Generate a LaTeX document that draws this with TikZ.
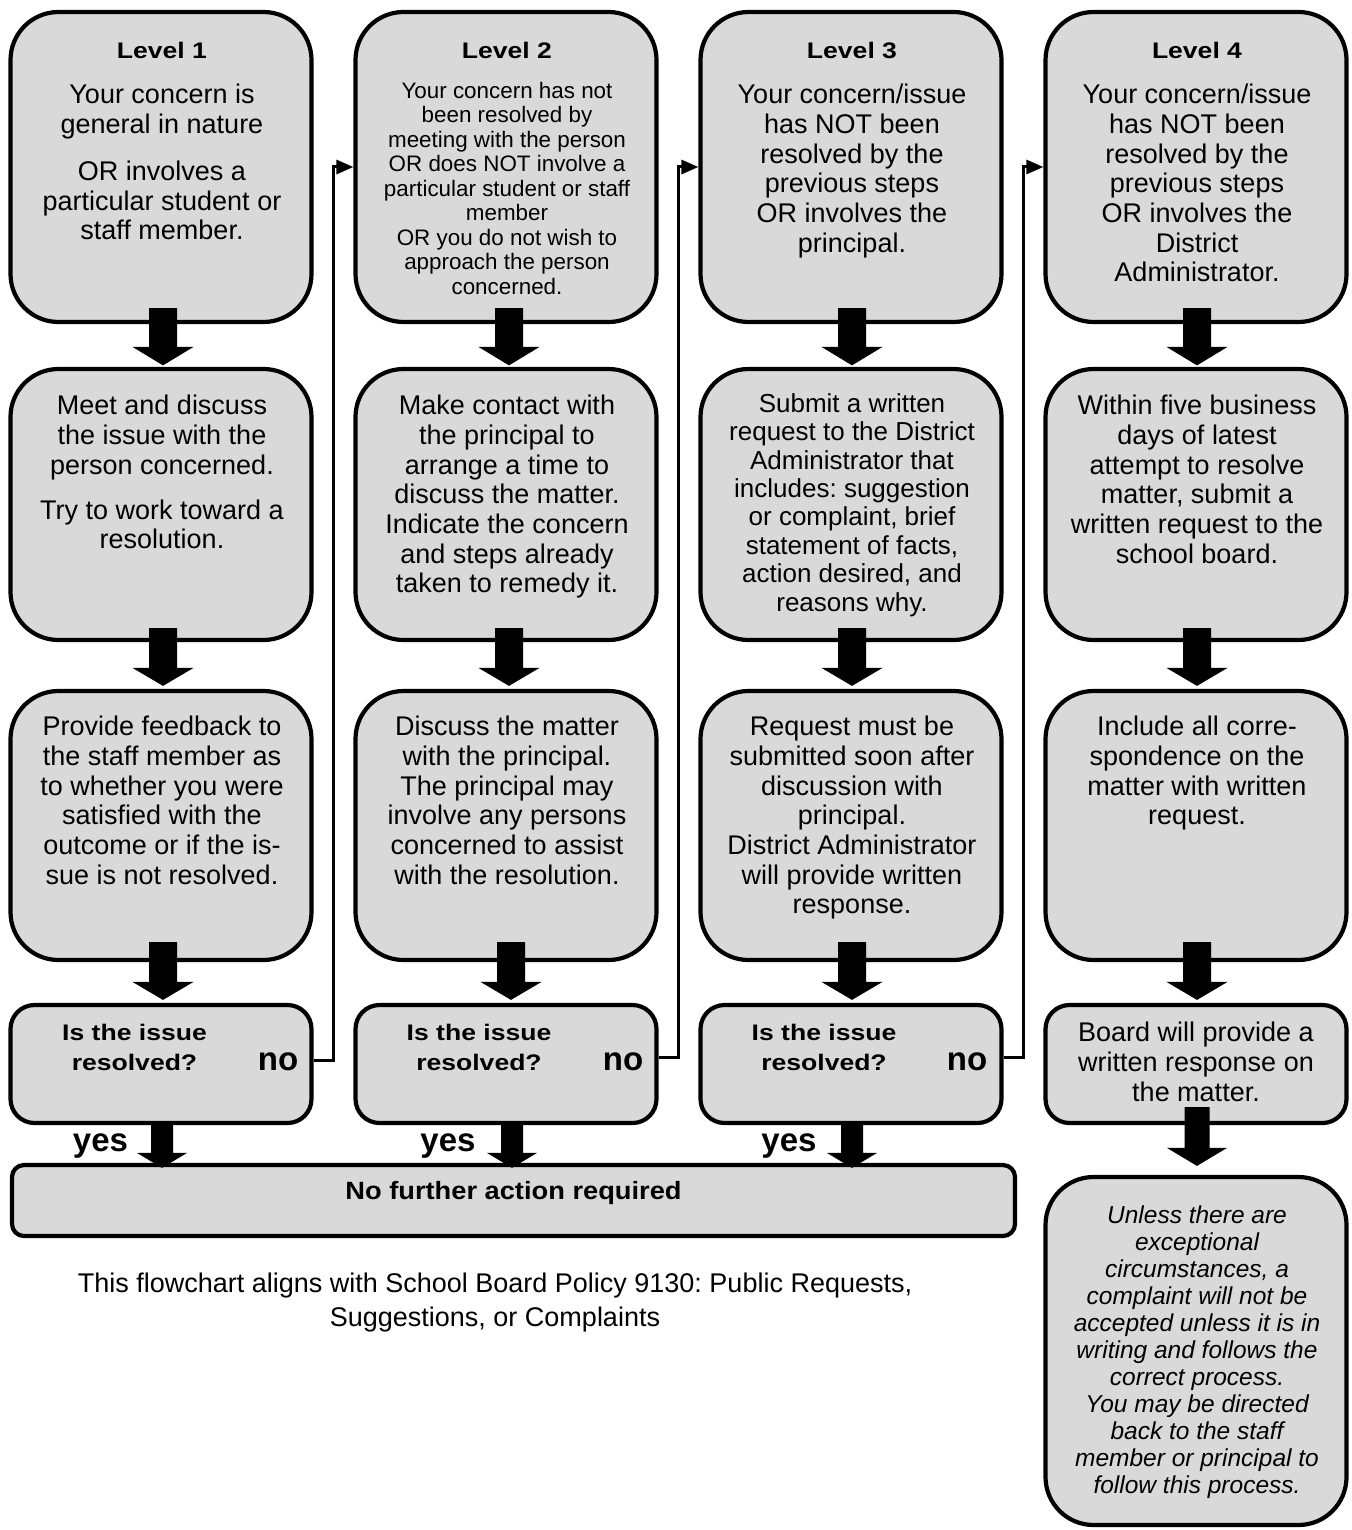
\documentclass[tikz,border=0pt]{standalone}
\usepackage{fontspec}
\setmainfont{Liberation Sans}
\newfontfamily\wbold{Liberation Sans}[FakeStretch=1.18]
\newfontfamily\nfbold{Liberation Sans}[FakeStretch=1.09]
\usetikzlibrary{arrows.meta,calc}
\definecolor{boxgray}{RGB}{217,217,217}
\frenchspacing
\newcommand\tstrut{\rule{0pt}{22pt}}
% #1 x, #2 source node, #3 target node, #4 shaft top above source.south,
% #5 head base above target.north, #6 tip above target.north, #7 shaft half width, #8 head half width
\newcommand\blockarrow[8]{%
  \path (#1,0 |- #2.south) coordinate (ba1) (#1,0 |- #3.north) coordinate (ba2);
  \fill[blockfill] ($(ba1)+({-(#7)},{-(#4)})$) -- ($(ba1)+({#7},{-(#4)})$)
    -- ($(ba2)+({#7},{-(#5)})$) -- ($(ba2)+({#8},{-(#5)})$)
    -- ($(ba2)+(0,{-(#6)})$)
    -- ($(ba2)+({-(#8)},{-(#5)})$) -- ($(ba2)+({-(#7)},{-(#5)})$) -- cycle;
}
\begin{document}
\begin{tikzpicture}[x=1pt,y=-1pt,
  box/.style={draw=black, line width=4.2pt, fill=boxgray, inner sep=0pt, minimum width=301pt},
  bigbox/.style={box, rounded corners=48pt},
  decbox/.style={box, rounded corners=24pt, minimum height=118pt},
  nfbox/.style={box, rounded corners=12pt, minimum width=1003pt, minimum height=71pt},
  txt/.style={align=center, inner sep=0pt, anchor=north, text=black},
  body/.style={txt, font=\fontsize{27}{29.7}\selectfont},
  small/.style={txt, font=\fontsize{22.4}{24.5}\selectfont},
  mid/.style={txt, font=\fontsize{26}{28.4}\selectfont},
  head/.style={txt, font=\wbold\bfseries\fontsize{22.5}{24}\selectfont},
  dec/.style={txt, font=\wbold\bfseries\fontsize{22.5}{30}\selectfont},
  bigbold/.style={inner sep=0pt, anchor=base, text=black, font=\bfseries\fontsize{33}{36}\selectfont},
  nftext/.style={inner sep=0pt, anchor=base, text=black, font=\nfbold\bfseries\fontsize{25}{28}\selectfont},
  ital/.style={txt, font=\itshape\fontsize{24.5}{27}\selectfont},
  foot/.style={txt, font=\fontsize{27}{34.7}\selectfont},
  blockfill/.style={fill=black},
  noline/.style={draw=black, line width=3pt, -{Triangle[length=17pt,width=14pt]}},
]
\useasboundingbox (0,0) rectangle (1351,1530);

% ---------- boxes ----------
\node[bigbox, minimum height=310pt] (l1) at (161,167) {};
\node[bigbox, minimum height=310pt] (l2) at (506,167) {};
\node[bigbox, minimum height=310pt] (l3) at (851,167) {};
\node[bigbox, minimum height=310pt] (l4) at (1196,167) {};

\node[bigbox, minimum height=271pt] (m1) at (161,504.5) {};
\node[bigbox, minimum height=271pt] (m2) at (506,504.5) {};
\node[bigbox, minimum height=271pt] (m3) at (851,504.5) {};
\node[bigbox, minimum height=271pt] (m4) at (1196,504.5) {};

\node[bigbox, minimum height=269pt] (r1) at (161,825.5) {};
\node[bigbox, minimum height=269pt] (r2) at (506,825.5) {};
\node[bigbox, minimum height=269pt] (r3) at (851,825.5) {};
\node[bigbox, minimum height=269pt] (r4) at (1196,825.5) {};

\node[decbox] (d1) at (161,1064) {};
\node[decbox] (d2) at (506,1064) {};
\node[decbox] (d3) at (851,1064) {};
\node[decbox] (d4) at (1196,1064) {};

\node[nfbox] (nf) at (513.5,1200.5) {};
\node[bigbox, minimum height=348pt] (u4) at (1196,1351) {};

% ---------- block arrows ----------
\blockarrow{163}{l1}{m1}{16}{20}{1.5}{14}{30.5}
\blockarrow{509}{l2}{m2}{16}{20}{1.5}{14}{30.5}
\blockarrow{852}{l3}{m3}{16}{20}{1.5}{14}{30.5}
\blockarrow{1197}{l4}{m4}{16}{20}{1.5}{14}{30.5}

\blockarrow{163}{m1}{r1}{14}{21}{3}{14}{30.5}
\blockarrow{509}{m2}{r2}{14}{21}{3}{14}{30.5}
\blockarrow{852}{m3}{r3}{14}{21}{3}{14}{30.5}
\blockarrow{1197}{m4}{r4}{14}{21}{3}{14}{30.5}

\blockarrow{163}{r1}{d1}{20}{21}{3}{14}{30.5}
\blockarrow{511}{r2}{d2}{20}{21}{3}{14}{30.5}
\blockarrow{852}{r3}{d3}{20}{21}{3}{14}{30.5}
\blockarrow{1197}{r4}{d4}{20}{21}{3}{14}{30.5}

\blockarrow{162}{d1}{nf}{3}{10}{-5}{11}{25}
\blockarrow{512}{d2}{nf}{3}{10}{-5}{11}{25}
\blockarrow{852}{d3}{nf}{3}{10}{-5}{11}{25}
\blockarrow{1197}{d4}{u4}{18}{27}{9}{12.5}{30}

% ---------- "no" connectors ----------
\draw[noline] ([yshift=4pt]d1.east) -- ++(20,0) |- (l2.west);
\draw[noline] ([yshift=7pt]d2.east) -- ++(20,0) |- (l3.west);
\draw[noline] ([yshift=7pt]d3.east) -- ++(20,0) |- (l4.west);

% ---------- texts ----------
\node[head] (h1) at (162,36.3) {\tstrut Level 1};
\node[head] (h2) at (507,36.3) {\tstrut Level 2};
\node[head] (h3) at (852,36.3) {\tstrut Level 3};
\node[head] (h4) at (1197,36.3) {\tstrut Level 4};

\node[body] (t11) at (162,81.5) {\tstrut Your concern is\\general in nature\\[17.4pt]OR involves a\\particular student or\\staff member.};
\node[small] (t12) at (507,76) {\tstrut Your concern has not\\been resolved by\\meeting with the person\\OR does NOT involve a\\particular student or staff\\member\\OR you do not wish to\\approach the person\\concerned.};
\node[body] (t13) at (852,81.5) {\tstrut Your concern/issue\\has NOT been\\resolved by the\\previous steps\\OR involves the\\principal.};
\node[body] (t14) at (1197,81.5) {\tstrut Your concern/issue\\has NOT been\\resolved by the\\previous steps\\OR involves the\\District\\Administrator.};

\node[body] (t21) at (162,392.5) {\tstrut Meet and discuss\\the issue with the\\person concerned.\\[15.4pt]Try to work toward a\\resolution.};
\node[body] (t22) at (507,392.5) {\tstrut Make contact with\\the principal to\\arrange a time to\\discuss the matter.\\Indicate the concern\\and steps already\\taken to remedy it.};
\node[mid] (t23) at (852,390) {\tstrut Submit a written\\request to the District\\Administrator that\\includes: suggestion\\or complaint, brief\\statement of facts,\\action desired, and\\reasons why.};
\node[body] (t24) at (1197,392.5) {\tstrut Within five business\\days of latest\\attempt to resolve\\matter, submit a\\written request to the\\school board.};

\node[body] (t31) at (162,713.5) {\tstrut Provide feedback to\\the staff member as\\to whether you were\\satisfied with the\\outcome or if the is-\\sue is not resolved.};
\node[body] (t32) at (507,713.5) {\tstrut Discuss the matter\\with the principal.\\The principal may\\involve any persons\\concerned to assist\\with the resolution.};
\node[body] (t33) at (852,713.5) {\tstrut Request must be\\submitted soon after\\discussion with\\principal.\\District Administrator\\will provide written\\response.};
\node[body] (t34) at (1197,713.5) {\tstrut Include all corre-\\spondence on the\\matter with written\\request.};

\node[dec] (q1) at (134.5,1018.7) {\tstrut Is the issue\\resolved?};
\node[dec] (q2) at (479,1018.7) {\tstrut Is the issue\\resolved?};
\node[dec] (q3) at (824,1018.7) {\tstrut Is the issue\\resolved?};
\node[body, font=\fontsize{27}{30}\selectfont] (t44) at (1196,1019) {\tstrut Board will provide a\\written response on\\the matter.};

\node[bigbold] (n1) at (278,1070.7) {no};
\node[bigbold] (n2) at (623,1070.7) {no};
\node[bigbold] (n3) at (967,1070.7) {no};

\node[bigbold] (y1) at (100.5,1151.7) {yes};
\node[bigbold] (y2) at (448,1151.7) {yes};
\node[bigbold] (y3) at (789,1151.7) {yes};

\node[nftext] (nft) at (513.5,1199.3) {No further action required};

\node[ital] (t54) at (1197,1201) {\tstrut Unless there are\\exceptional\\circumstances, a\\complaint will not be\\accepted unless it is in\\writing and follows the\\correct process.\\You may be directed\\back to the staff\\member or principal to\\follow this process.};

\node[foot] (ft) at (495,1270) {\tstrut This flowchart aligns with School Board Policy 9130: Public Requests,\\Suggestions, or Complaints};
\end{tikzpicture}
\end{document}
